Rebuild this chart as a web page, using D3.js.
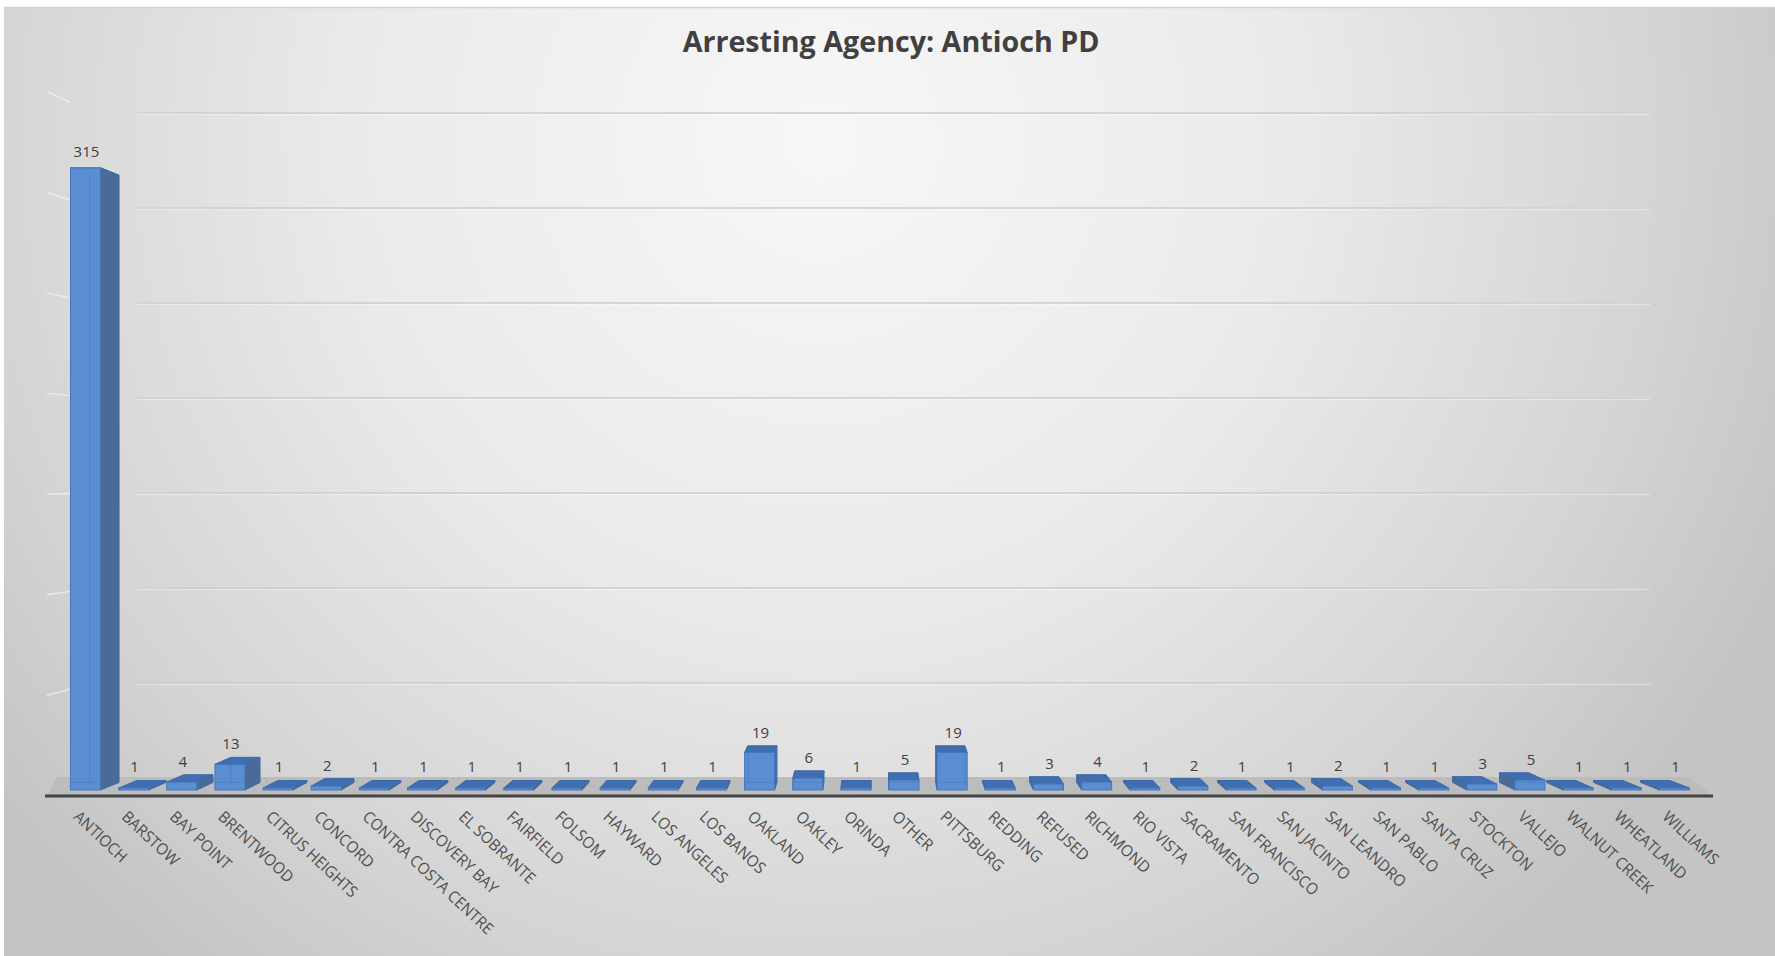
<!DOCTYPE html>
<html><head><meta charset="utf-8">
<script src="https://cdn.jsdelivr.net/npm/d3@7"></script>
<style>html,body{margin:0;padding:0;background:#fff;overflow:hidden}</style>
</head><body>
<svg id="chart" width="1775" height="956"></svg>
<script>
const categories = ["ANTIOCH","BARSTOW","BAY POINT","BRENTWOOD","CITRUS HEIGHTS","CONCORD","CONTRA COSTA CENTRE","DISCOVERY BAY","EL SOBRANTE","FAIRFIELD","FOLSOM","HAYWARD","LOS ANGELES","LOS BANOS","OAKLAND","OAKLEY","ORINDA","OTHER","PITTSBURG","REDDING","REFUSED","RICHMOND","RIO VISTA","SACRAMENTO","SAN FRANCISCO","SAN JACINTO","SAN LEANDRO","SAN PABLO","SANTA CRUZ","STOCKTON","VALLEJO","WALNUT CREEK","WHEATLAND","WILLIAMS"];
const values = [315,1,4,13,1,2,1,1,1,1,1,1,1,1,19,6,1,5,19,1,3,4,1,2,1,1,2,1,1,3,5,1,1,1];
const gridTicks = [50,100,150,200,250,300,350];
const titleText = "Arresting Agency: Antioch PD";

const W = 1775, H = 956;
const svg = d3.select("#chart");
const defs = svg.append("defs");

const bg = defs.append("radialGradient").attr("id","bg")
  .attr("gradientUnits","userSpaceOnUse").attr("cx",820).attr("cy",140).attr("r",1050);
bg.append("stop").attr("offset",0).attr("stop-color","#f7f7f7");
bg.append("stop").attr("offset",0.45).attr("stop-color","#eaeaea");
bg.append("stop").attr("offset",0.8).attr("stop-color","#d4d4d4");
bg.append("stop").attr("offset",1).attr("stop-color","#c4c4c4");

const gl = defs.append("linearGradient").attr("id","gridFade")
  .attr("gradientUnits","userSpaceOnUse").attr("x1",137).attr("x2",1668).attr("y1",0).attr("y2",0);
gl.append("stop").attr("offset",0).attr("stop-color","#cccccc").attr("stop-opacity",0.6);
gl.append("stop").attr("offset",0.05).attr("stop-color","#cccccc").attr("stop-opacity",1);
gl.append("stop").attr("offset",0.85).attr("stop-color","#cccccc").attr("stop-opacity",1);
gl.append("stop").attr("offset",1).attr("stop-color","#cccccc").attr("stop-opacity",0.15);

svg.append("rect").attr("x",4).attr("y",7).attr("width",W-4).attr("height",H-7).attr("fill","url(#bg)");
svg.append("line").attr("x1",4).attr("x2",W).attr("y1",7.5).attr("y2",7.5).attr("stroke","#d2d2d2").attr("stroke-width",1.5);

// scales
const x = d3.scaleBand().domain(categories).range([61.4, 1698.5]).paddingInner(0.377).paddingOuter(0.1885);
const yFront = d3.scaleLinear().domain([0,350]).range([790, 98.75]);
const yBack = d3.scaleLinear().domain([0,350]).range([778, 113]);
const ySide = d3.scaleLinear().domain([0,350]).range([796, 91.5]);
const VP = [874, 474], K = 0.976;
const proj = p => [VP[0] + (p[0]-VP[0])*K, VP[1] + (p[1]-VP[1])*K];

// back wall gridlines
const grid = svg.append("g");
gridTicks.forEach(t => {
  const y = yBack(t);
  grid.append("line").attr("x1",137).attr("x2",1668).attr("y1",y).attr("y2",y)
    .attr("stroke","url(#gridFade)").attr("stroke-width",1.6);
  grid.append("line").attr("x1",137).attr("x2",1650).attr("y1",y+1.6).attr("y2",y+1.6)
    .attr("stroke","#ffffff").attr("stroke-opacity",0.45).attr("stroke-width",1);
  const y0 = ySide(t), xs0 = 47, xs1 = 70;
  const y1 = y0 + (VP[1]-y0)*(xs1-xs0)/(VP[0]-xs0);
  grid.append("line").attr("x1",xs0).attr("x2",xs1).attr("y1",y0).attr("y2",y1)
    .attr("stroke","#f2f2f2").attr("stroke-opacity",0.8).attr("stroke-width",1.3);
});

// floor
svg.append("path").attr("d", d3.line()([[47,796],[1713,796],[1690,777],[57,777]]) + "Z")
  .attr("fill","#bcbcbc");
svg.append("line").attr("x1",45).attr("x2",1713).attr("y1",796).attr("y2",796)
  .attr("stroke","#454545").attr("stroke-width",3);

// bars
const bw = x.bandwidth();
const line = d3.line();
const barsG = svg.append("g");
const labelsG = svg.append("g");
categories.forEach((c,i) => {
  const v = values[i];
  const x0 = x(c), x1 = x0 + bw, yt = yFront(v), yb = yFront(0);
  const FTL=[x0,yt], FTR=[x1,yt], FBL=[x0,yb], FBR=[x1,yb];
  const BTL=proj(FTL), BTR=proj(FTR), BBL=proj(FBL), BBR=proj(FBR);
  const g = barsG.append("g");
  const stroke = "#3d6aa8";
  g.append("path").attr("d", line([FTL,FTR,BTR,BTL])+"Z").attr("fill","#3f6eb1").attr("stroke",stroke).attr("stroke-width",1);
  const cx = x0 + bw/2;
  if (cx < VP[0]) {
    g.append("path").attr("d", line([FTR,BTR,BBR,FBR])+"Z").attr("fill","#4a6b99").attr("stroke",stroke).attr("stroke-width",1);
  } else {
    g.append("path").attr("d", line([FTL,BTL,BBL,FBL])+"Z").attr("fill","#4a6b99").attr("stroke",stroke).attr("stroke-width",1);
  }
  g.append("rect").attr("x",x0).attr("y",yt).attr("width",bw).attr("height",yb-yt)
    .attr("fill","#5b8ed1").attr("stroke","#4676ba").attr("stroke-width",1);
  const bx = cx < VP[0] ? BTL[0] : BTR[0];
  const ya = Math.max(BTL[1], yt), ybb = Math.min(BBL[1], yb);
  if (ybb - ya > 2 && bx > x0 && bx < x1) {
    g.append("line").attr("x1",bx).attr("x2",bx).attr("y1",ya).attr("y2",ybb)
      .attr("stroke","#4a7cc0").attr("stroke-width",1).attr("stroke-opacity",0.8);
    g.append("line").attr("x1",x0).attr("x2",x1).attr("y1",ybb).attr("y2",ybb)
      .attr("stroke","#4a7cc0").attr("stroke-width",1).attr("stroke-opacity",0.6);
  }
  const top = Math.min(yt, BTL[1]);
  labelsG.append("text").attr("x",cx+1).attr("y", top - (v > 100 ? 11 : 8))
    .attr("text-anchor","middle").attr("font-family","Open Sans, Lato, sans-serif")
    .attr("font-size",15).attr("fill","#404040").text(v);
});

// category labels (narrowed along the text direction to match the reference face)
const catG = svg.append("g");
const catFs = 16;
const probe = catG.append("text").attr("font-family","Open Sans, Lato, sans-serif")
  .attr("font-size",catFs).text("CONTRA COSTA CENTRE");
const sx = 172 / probe.node().getComputedTextLength();
probe.remove();
categories.forEach(c => {
  const cx = x(c) + bw/2;
  catG.append("text").attr("transform",`translate(${cx-13},818) rotate(43) scale(${sx.toFixed(3)},1)`)
    .attr("font-family","Open Sans, Lato, sans-serif").attr("font-size",catFs)
    .attr("fill","#4f4f4f").text(c);
});

// title
const tt = svg.append("text").attr("x",891).attr("y",52).attr("text-anchor","middle")
  .attr("font-family","Open Sans, Lato, sans-serif").attr("font-weight","bold")
  .attr("font-size",30).attr("fill","#404040").text(titleText);
const tl = tt.node().getComputedTextLength();
tt.attr("font-size", (30*417/tl).toFixed(2));
</script>
</body></html>
